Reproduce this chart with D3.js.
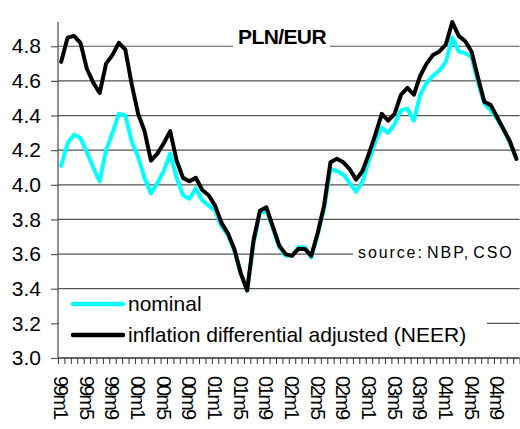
<!DOCTYPE html>
<html>
<head>
<meta charset="utf-8">
<script src="https://cdn.jsdelivr.net/npm/d3@7"></script>
<style>
  body { margin: 0; background: #fff; }
  svg { display: block; font-family: "Liberation Sans", Arial, sans-serif; }
</style>
</head>
<body>
<svg id="chart" width="520" height="429"></svg>
<script>
// monthly data, 1999m1 .. 2004m12
var years = ["99", "00", "01", "02", "03", "04"];
var months = [];
years.forEach(function(y) { for (var m = 1; m <= 12; m++) months.push(y + "m" + m); });

var tickLabels = ["99m1", "99m5", "99m9", "00m1", "00m5", "00m9", "01m1", "01m5", "01m9",
                  "02m1", "02m5", "02m9", "03m1", "03m5", "03m9", "04m1", "04m5", "04m9"];

var nominal = [4.11, 4.24, 4.29, 4.27, 4.19, 4.10, 4.02, 4.20, 4.30, 4.41, 4.40, 4.25,
               4.16, 4.04, 3.95, 4.01, 4.08, 4.18, 4.04, 3.94, 3.92, 3.98, 3.91, 3.88,
               3.85, 3.76, 3.71, 3.62, 3.49, 3.39, 3.66, 3.84, 3.85, 3.75, 3.64, 3.59,
               3.59, 3.64, 3.64, 3.58, 3.71, 3.86, 4.09, 4.08, 4.06, 4.01, 3.96, 4.02,
               4.14, 4.25, 4.33, 4.30, 4.35, 4.43, 4.44, 4.37, 4.52, 4.59, 4.63, 4.66,
               4.71, 4.85, 4.77, 4.76, 4.74, 4.59, 4.47, 4.43, 4.38, 4.32, 4.24, 4.15];

var neer = [4.71, 4.85, 4.86, 4.82, 4.67, 4.59, 4.53, 4.70, 4.75, 4.82, 4.78, 4.58,
            4.41, 4.31, 4.14, 4.18, 4.24, 4.31, 4.14, 4.04, 4.02, 4.04, 3.97, 3.94,
            3.88, 3.78, 3.72, 3.63, 3.49, 3.39, 3.68, 3.85, 3.87, 3.76, 3.65, 3.60,
            3.59, 3.63, 3.63, 3.59, 3.72, 3.88, 4.13, 4.15, 4.13, 4.09, 4.03, 4.08,
            4.18, 4.29, 4.41, 4.37, 4.41, 4.52, 4.56, 4.52, 4.63, 4.70, 4.75, 4.77,
            4.81, 4.94, 4.86, 4.83, 4.77, 4.62, 4.48, 4.46, 4.39, 4.32, 4.25, 4.15];

var yTicks = [3.0, 3.2, 3.4, 3.6, 3.8, 4.0, 4.2, 4.4, 4.6, 4.8];

var svg = d3.select("svg");
var margin = {left: 58, right: 519.6, top: 22, bottom: 358};

var x = d3.scaleBand().domain(months).range([margin.left, margin.right]).padding(0);
var xi = d3.scaleLinear().domain([0, months.length]).range([margin.left, margin.right]);
var y = d3.scaleLinear().domain([3.0, 4.94]).range([margin.bottom, margin.top]);
var cx = function(m) { return x(m) + x.bandwidth() / 2; };

// gridlines
svg.append("g").selectAll("line")
  .data(yTicks.filter(function(d) { return d > 3.0; }))
  .enter().append("line")
    .attr("x1", margin.left).attr("x2", margin.right)
    .attr("y1", function(d) { return y(d); })
    .attr("y2", function(d) { return y(d); })
    .attr("stroke", "#555").attr("stroke-width", 1.2);

// y axis
var gy = svg.append("g").attr("transform", "translate(" + margin.left + ",0)")
  .call(d3.axisLeft(y).tickValues(yTicks).tickSize(7).tickPadding(10)
        .tickFormat(d3.format(".1f")));
gy.select(".domain").attr("d", "M0," + margin.top + "V" + margin.bottom)
  .attr("stroke", "#555").attr("stroke-width", 1.3);
gy.selectAll(".tick line").attr("stroke", "#555").attr("stroke-width", 1.2);
gy.selectAll("text").style("font-size", "21px").style("fill", "#000")
  .attr("font-family", null);

// x axis, ticks between months
var gx = svg.append("g").attr("transform", "translate(0," + margin.bottom + ")")
  .call(d3.axisBottom(xi).tickValues(d3.range(months.length + 1)).tickSize(6).tickFormat(""));
gx.select(".domain").attr("d", "M" + margin.left + ",0H" + margin.right)
  .attr("stroke", "#333").attr("stroke-width", 1.3);
gx.selectAll(".tick line").attr("stroke", "#333");

svg.append("g").selectAll("text")
  .data(tickLabels)
  .enter().append("text")
    .attr("transform", function(d) { return "translate(" + cx(d) + ",376) rotate(90)"; })
    .attr("dy", "0.35em")
    .style("font-size", "20px")
    .style("letter-spacing", "-2px")
    .style("fill", "#000")
    .text(function(d) { return d; });

// title and source, on white boxes over the gridlines
svg.append("rect").attr("x", 233).attr("y", 26).attr("width", 97).attr("height", 24).attr("fill", "#fff");
svg.append("text").attr("x", 238).attr("y", 44)
  .style("font-size", "21px").style("font-weight", "bold").style("letter-spacing", "-0.6px")
  .text("PLN/EUR");

svg.append("rect").attr("x", 353).attr("y", 244).attr("width", 167).attr("height", 20).attr("fill", "#fff");
svg.append("text").attr("x", 358).attr("y", 258)
  .style("font-size", "16px").style("letter-spacing", "1.9px").style("word-spacing", "-3px")
  .text("source: NBP, CSO");

// legend box
svg.append("rect").attr("x", margin.left + 1).attr("y", 291).attr("width", 428).attr("height", 58).attr("fill", "#fff");

// series lines
var line = function(vals) {
  return d3.line()
    .x(function(d, i) { return cx(months[i]); })
    .y(function(d) { return y(d); })(vals);
};

svg.append("path").attr("d", line(nominal))
  .attr("fill", "none").attr("stroke", "#00ffff").attr("stroke-width", 4)
  .attr("stroke-linejoin", "round").attr("stroke-linecap", "round");
svg.append("path").attr("d", line(neer))
  .attr("fill", "none").attr("stroke", "#000").attr("stroke-width", 4)
  .attr("stroke-linejoin", "round").attr("stroke-linecap", "round");

// legend entries
var legend = [
  {name: "nominal", color: "#00ffff", y: 304},
  {name: "inflation differential adjusted (NEER)", color: "#000", y: 335}
];
var lg = svg.append("g").selectAll("g").data(legend).enter().append("g");
lg.append("line")
  .attr("x1", 73).attr("x2", 123)
  .attr("y1", function(d) { return d.y; }).attr("y2", function(d) { return d.y; })
  .attr("stroke", function(d) { return d.color; }).attr("stroke-width", 4.5)
  .attr("stroke-linecap", "round");
lg.append("text")
  .attr("x", 128).attr("y", function(d) { return d.y + 7; })
  .style("font-size", "21px")
  .text(function(d) { return d.name; });
</script>
</body>
</html>
